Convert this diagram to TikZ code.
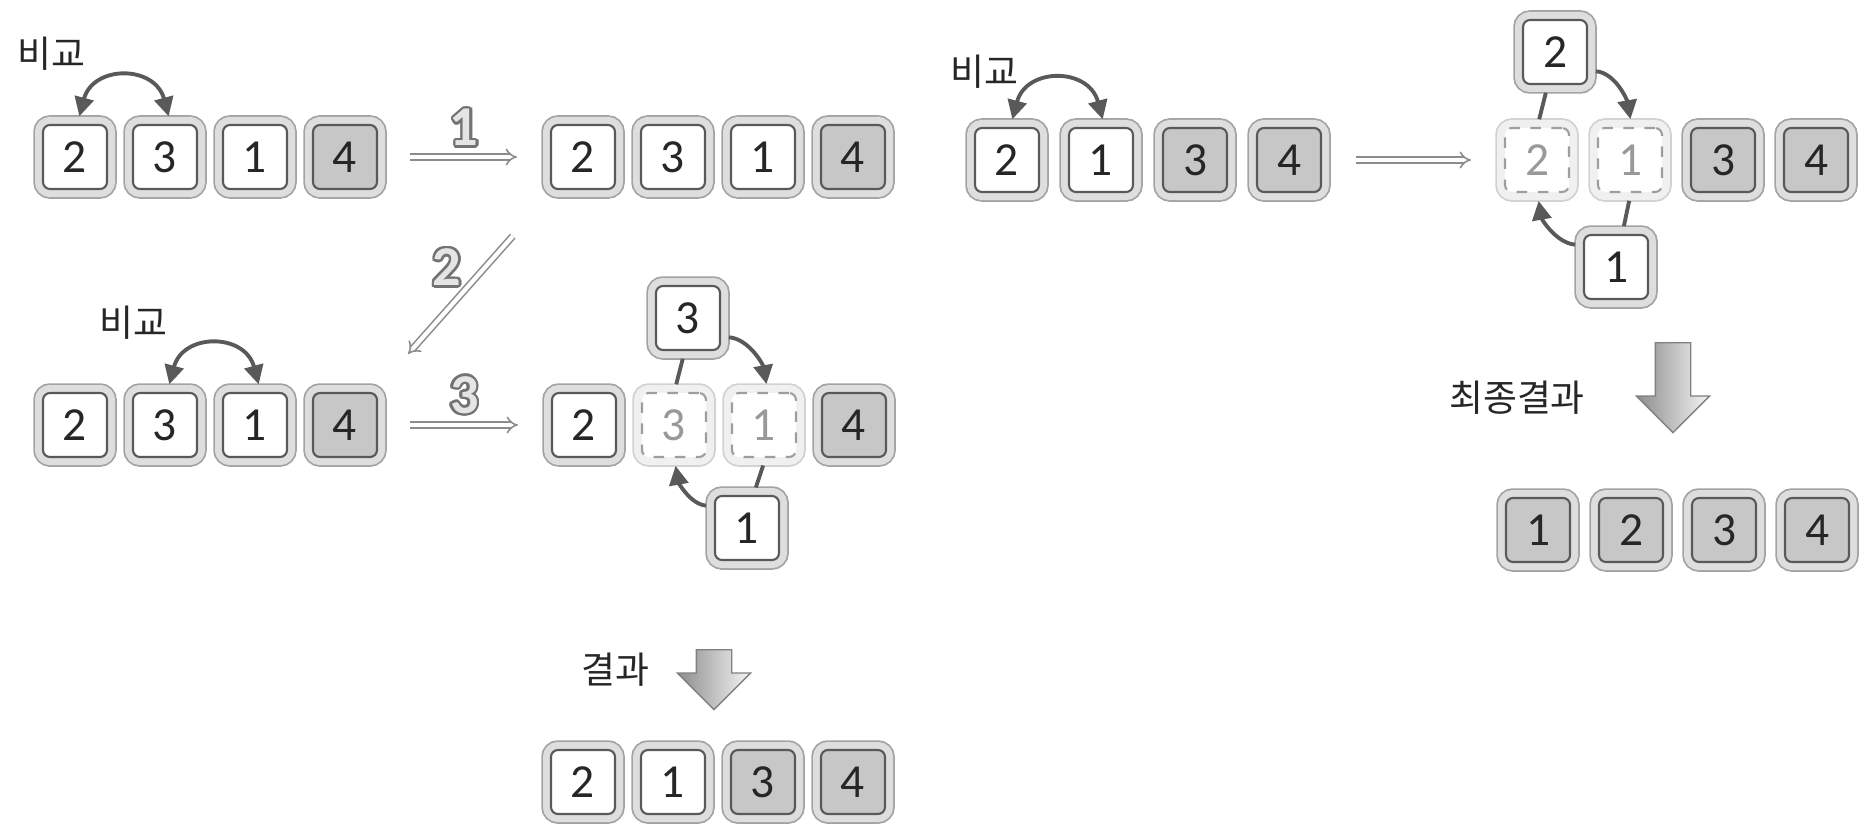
\documentclass[tikz,border=0pt]{standalone}
\usepackage{fontspec}
\setmainfont{Carlito}
\newfontfamily\krfont{Noto Sans CJK KR}
\usepackage{contour}
\contourlength{0.7pt}
\usetikzlibrary{arrows.meta,positioning,shapes.arrows}
\tikzset{
  ring/.style 2 args={preaction={draw=#1, line width=1.95mm, solid}, preaction={draw=#2, line width=1.6mm, solid}},
  keybase/.style={line width=0.6pt, rounded corners=0.7mm, minimum size=6.4mm, inner sep=0pt, outer sep=0pt, font=\fontsize{13.5}{14}\selectfont},
  kbox/.style={keybase, ring={black!36}{black!13}, draw=black!65, fill=white, text=black!85},
  gbox/.style={kbox, fill=black!22},
  dbox/.style={keybase, ring={black!18}{black!6}, draw=black!38, dashed, fill=white, text=black!40},
  krlbl/.style={font=\krfont\fontsize{10.5}{12}\selectfont, text=black!85, inner sep=0pt},
  numlbl/.style={font=\fontsize{16}{16}\selectfont\bfseries, text=black!10, inner sep=0pt},
  cmp/.style={draw=black!65, line width=1.1pt, {Triangle[length=1.9mm,width=1.9mm]}-{Triangle[length=1.9mm,width=1.9mm]}, shorten <=0.9mm, shorten >=0.9mm},
  swp/.style={draw=black!65, line width=1.1pt, -{Triangle[length=1.9mm,width=1.9mm]}, shorten <=0.9mm, shorten >=0.9mm},
  swl/.style={draw=black!65, line width=1.1pt, shorten <=0.9mm, shorten >=0.9mm},
  dbl/.style={draw=black!45, double=white, double distance=1.2pt, line width=0.45pt, -{Implies[scale=1.8]}},
  bigarr/.style={single arrow, draw=black!50, rotate=-90, anchor=tail, left color=black!45, right color=black!4, inner sep=1.7mm, single arrow head extend=1.9mm, single arrow tip angle=90, minimum height=#1}
}

\begin{document}
\begin{tikzpicture}
\useasboundingbox (0,0) rectangle (18.66,-8.23);
% step 1 : 2 3 1 4
\node[kbox] (a1) at (0.75,-1.57) {2};
\node[kbox, right=2.6mm of a1] (a2) {3};
\node[kbox, right=2.6mm of a2] (a3) {1};
\node[gbox, right=2.6mm of a3] (a4) {4};
\node[krlbl] (cmpa) at (0.51,-0.54) {비교};
\draw[cmp] ([xshift=0.2mm]a1.north) to[out=75,in=105,looseness=1.7] ([xshift=0.6mm]a2.north);

\node[kbox] (b1) at (5.83,-1.57) {2};
\node[kbox, right=2.6mm of b1] (b2) {3};
\node[kbox, right=2.6mm of b2] (b3) {1};
\node[gbox, right=2.6mm of b3] (b4) {4};
\draw[dbl, shorten <=3.3mm, shorten >=3.4mm] (a4) -- node[numlbl, above=0.8mm] (n1) {\contour{black!55}{1}} (b1);

% step 2 : compare 3 and 1
\node[kbox] (c1) at (0.75,-4.25) {2};
\node[kbox, right=2.6mm of c1] (c2) {3};
\node[kbox, right=2.6mm of c2] (c3) {1};
\node[gbox, right=2.6mm of c3] (c4) {4};
\node[krlbl] (cmpc) at (1.33,-3.23) {비교};
\draw[cmp] ([xshift=0.2mm]c2.north) to[out=75,in=105,looseness=1.7] ([xshift=0.6mm]c3.north);
\draw[dbl, shorten <=6.3mm, shorten >=5.2mm] (b1) -- node[numlbl, above left=0.3mm] (n2) {\contour{black!55}{2}} (c4);

\node[kbox] (d1) at (5.84,-4.25) {2};
\node[dbox, right=2.6mm of d1] (d2) {3};
\node[dbox, right=2.6mm of d2] (d3) {1};
\node[gbox, right=2.6mm of d3] (d4) {4};
\node[kbox] (dt) at (6.88,-3.18) {3};
\node[kbox] (db) at (7.47,-5.28) {1};
\draw[dbl, shorten <=3.3mm, shorten >=3.4mm] (c4) -- node[numlbl, above=0.8mm] (n3) {\contour{black!55}{3}} (d1);
\draw[swp] (dt.-30) to[out=-5,in=100] ([xshift=0.4mm]d3.north);
\draw[swl] ([xshift=-0.3mm]dt.south) -- (d2.north);
\draw[swl] ([xshift=0.2mm]d3.south) -- ([xshift=0.6mm]db.north);
\draw[swp] (db.146) to[out=175,in=-80] (d2.south);

% result of first pass
\node[krlbl] (res1) at (6.15,-6.70) {결과};
\node[bigarr=6mm] (dn1) at (7.14,-6.49) {};
\node[kbox] (e1) at (5.83,-7.82) {2};
\node[kbox, right=2.6mm of e1] (e2) {1};
\node[gbox, right=2.6mm of e2] (e3) {3};
\node[gbox, right=2.6mm of e3] (e4) {4};

% second pass : 2 1 3 4
\node[kbox] (f1) at (10.07,-1.60) {2};
\node[kbox, right=3mm of f1] (f2) {1};
\node[gbox, right=3mm of f2] (f3) {3};
\node[gbox, right=3mm of f3] (f4) {4};
\node[krlbl] (cmpf) at (9.84,-0.72) {비교};
\draw[cmp] ([xshift=0.3mm]f1.north) to[out=75,in=105,looseness=1.7] ([xshift=0.4mm]f2.north);

\node[dbox] (g1) at (15.37,-1.60) {2};
\node[dbox, right=2.9mm of g1] (g2) {1};
\node[gbox, right=2.9mm of g2] (g3) {3};
\node[gbox, right=2.9mm of g3] (g4) {4};
\node[kbox] (gt) at (15.55,-0.52) {2};
\node[kbox] (gb) at (16.16,-2.67) {1};
\draw[dbl, shorten <=3.5mm, shorten >=3.4mm] (f4) -- (g1);
\draw[swp] (gt.-30) to[out=-5,in=100] ([xshift=0.2mm]g2.north);
\draw[swl] ([xshift=-0.7mm]gt.south) -- (g1.north);
\draw[swl] ([xshift=0.1mm]g2.south) -- ([xshift=0.6mm]gb.north);
\draw[swp] (gb.146) to[out=175,in=-80] (g1.south);

% final result
\node[krlbl] (res2) at (15.17,-3.98) {최종결과};
\node[bigarr=9mm] (dn2) at (16.73,-3.42) {};
\node[gbox] (h1) at (15.38,-5.30) {1};
\node[gbox, right=2.9mm of h1] (h2) {2};
\node[gbox, right=2.9mm of h2] (h3) {3};
\node[gbox, right=2.9mm of h3] (h4) {4};
\end{tikzpicture}
\end{document}
